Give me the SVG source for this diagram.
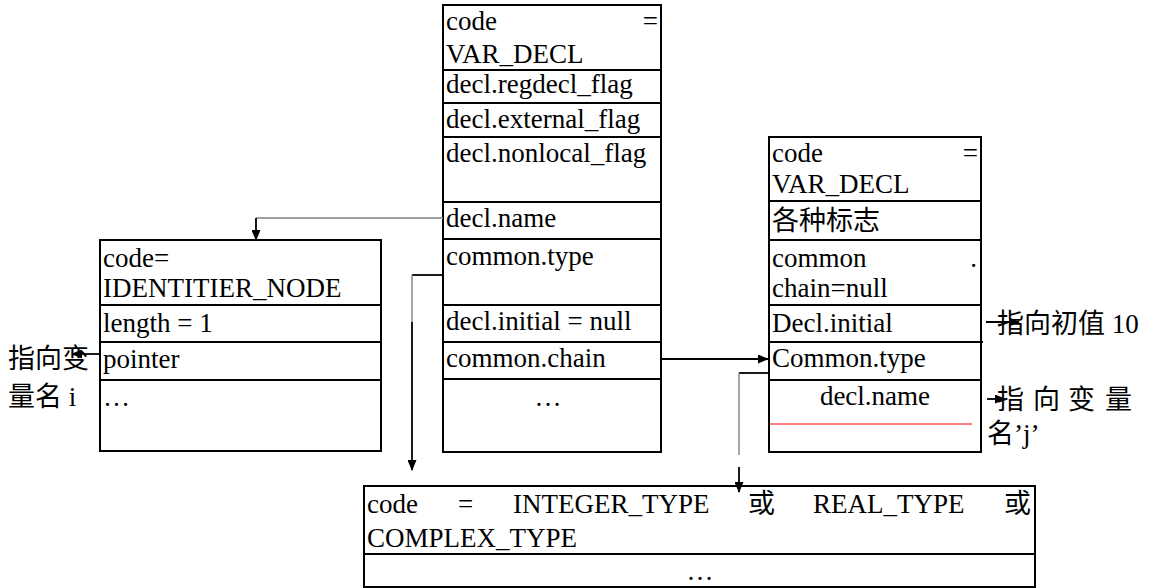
<svg xmlns="http://www.w3.org/2000/svg" width="1150" height="588" viewBox="0 0 1150 588">
  <style>
    .box { fill: #ffffff; stroke: #000000; stroke-width: 2; }
    .sep { stroke: #000000; stroke-width: 2; }
    .t { font-family: 'Liberation Serif', 'Times New Roman', Times, serif; font-size: 27px; fill: #000000; }
    .cjk { font-family: 'Liberation Serif', 'Noto Sans CJK SC', serif; }
    .wire { fill: none; stroke: #000000; stroke-width: 1.8; }
    .thin { fill: none; stroke: #808080; stroke-width: 1.4; }
  </style>
  <defs>
    <marker id="arrow" markerUnits="userSpaceOnUse" markerWidth="11" markerHeight="9" refX="10" refY="4.5" orient="auto">
      <path d="M0,0 L11,4.5 L0,9 z" fill="#000000"/>
    </marker>
  </defs>

  <rect width="1150" height="588" fill="#ffffff"/>

  <!-- VAR_DECL node for i -->
  <g id="var-decl-i">
    <rect class="box" x="443" y="5" width="218" height="447"/>
    <line class="sep" x1="443" y1="70" x2="661" y2="70"/>
    <line class="sep" x1="443" y1="103" x2="661" y2="103"/>
    <line class="sep" x1="443" y1="137" x2="661" y2="137"/>
    <line class="sep" x1="443" y1="202" x2="661" y2="202"/>
    <line class="sep" x1="443" y1="239" x2="661" y2="239"/>
    <line class="sep" x1="443" y1="305" x2="661" y2="305"/>
    <line class="sep" x1="443" y1="342" x2="661" y2="342"/>
    <line class="sep" x1="443" y1="379" x2="661" y2="379"/>
    <text class="t" x="446" y="30">code</text>
    <text class="t" x="658" y="30" text-anchor="end">=</text>
    <text class="t" x="446" y="63">VAR_DECL</text>
    <text class="t" x="446" y="93">decl.regdecl_flag</text>
    <text class="t" x="446" y="128">decl.external_flag</text>
    <text class="t" x="446" y="162">decl.nonlocal_flag</text>
    <text class="t" x="446" y="227">decl.name</text>
    <text class="t" x="446" y="265">common.type</text>
    <text class="t" x="446" y="330">decl.initial = null</text>
    <text class="t" x="446" y="367">common.chain</text>
    <text class="t" x="548" y="406" text-anchor="middle">…</text>
  </g>

  <!-- IDENTIFIER_NODE node -->
  <g id="identifier-node">
    <rect class="box" x="100" y="240" width="281" height="211"/>
    <line class="sep" x1="100" y1="305" x2="381" y2="305"/>
    <line class="sep" x1="100" y1="342" x2="381" y2="342"/>
    <line class="sep" x1="100" y1="380" x2="381" y2="380"/>
    <text class="t" x="103" y="267">code=</text>
    <text class="t" x="103" y="297">IDENTITIER_NODE</text>
    <text class="t" x="103" y="332">length = 1</text>
    <text class="t" x="103" y="368">pointer</text>
    <text class="t" x="103" y="406">…</text>
  </g>

  <!-- note beside the pointer field -->
  <g id="note-i">
    <text class="t cjk" x="8" y="368">指向变</text>
    <text class="t cjk" x="8" y="406">量名 i</text>
  </g>

  <!-- VAR_DECL node for j -->
  <g id="var-decl-j">
    <rect class="box" x="769" y="137" width="212" height="315"/>
    <line class="sep" x1="769" y1="201" x2="981" y2="201"/>
    <line class="sep" x1="769" y1="240" x2="981" y2="240"/>
    <line class="sep" x1="769" y1="305" x2="981" y2="305"/>
    <line class="sep" x1="769" y1="342" x2="983" y2="342"/>
    <line class="sep" x1="769" y1="380" x2="981" y2="380"/>
    <line x1="770" y1="424" x2="972" y2="424" stroke="#ff0000" stroke-width="1"/>
    <text class="t" x="772" y="162">code</text>
    <text class="t" x="978" y="162" text-anchor="end">=</text>
    <text class="t" x="772" y="193">VAR_DECL</text>
    <text class="t cjk" x="772" y="230">各种标志</text>
    <text class="t" x="772" y="267">common</text>
    <text class="t" x="977" y="267" text-anchor="end">.</text>
    <text class="t" x="772" y="297">chain=null</text>
    <text class="t" x="772" y="332">Decl.initial</text>
    <text class="t" x="772" y="367">Common.type</text>
    <text class="t" x="875" y="405" text-anchor="middle">decl.name</text>
  </g>

  <!-- notes beside the j node -->
  <g id="note-j">
    <text class="t cjk" x="997" y="333">指向初值 10</text>
    <text class="t cjk" y="409"><tspan x="997">指</tspan><tspan x="1033">向</tspan><tspan x="1068">变</tspan><tspan x="1105">量</tspan></text>
    <text class="t cjk" x="987" y="443">名’j’</text>
  </g>

  <!-- type node -->
  <g id="type-node">
    <rect class="box" x="364" y="486" width="671" height="101"/>
    <line class="sep" x1="364" y1="554" x2="1035" y2="554"/>
    <text class="t" x="367" y="513">code</text>
    <text class="t" x="458" y="513">=</text>
    <text class="t" x="513" y="513">INTEGER_TYPE</text>
    <text class="t cjk" x="748" y="513">或</text>
    <text class="t" x="813" y="513">REAL_TYPE</text>
    <text class="t cjk" x="1004" y="513">或</text>
    <text class="t" x="367" y="547">COMPLEX_TYPE</text>
    <text class="t" x="700" y="580" text-anchor="middle">…</text>
  </g>

  <!-- connectors -->
  <g id="connectors">
    <!-- decl.name -> identifier node -->
    <polyline class="thin" points="443,218 256,218"/>
    <polyline class="wire" points="256,218 256,240" stroke-width="1.4" marker-end="url(#arrow)"/>
    <!-- common.type -> type node -->
    <polyline class="wire" points="443,275 412,275"/>
    <line class="thin" x1="412" y1="275" x2="412" y2="322"/>
    <line class="wire" x1="412" y1="322" x2="412" y2="470" marker-end="url(#arrow)"/>
    <!-- common.chain -> j node -->
    <line class="wire" x1="661" y1="359" x2="768" y2="359" marker-end="url(#arrow)"/>
    <!-- Common.type of j -> type node -->
    <polyline class="wire" points="769,373 739,373"/>
    <line class="thin" x1="739" y1="373" x2="739" y2="455"/>
    <line class="wire" x1="739" y1="467" x2="739" y2="492" marker-end="url(#arrow)"/>
    <!-- pointer -> name i -->
    <line class="wire" x1="100" y1="354" x2="72" y2="354" marker-end="url(#arrow)"/>
    <!-- Decl.initial -> initial value -->
    <line class="wire" x1="986" y1="322" x2="1019" y2="322" marker-end="url(#arrow)"/>
    <!-- decl.name -> name j -->
    <line class="wire" x1="987" y1="399" x2="1005" y2="399" marker-end="url(#arrow)"/>
  </g>
</svg>
